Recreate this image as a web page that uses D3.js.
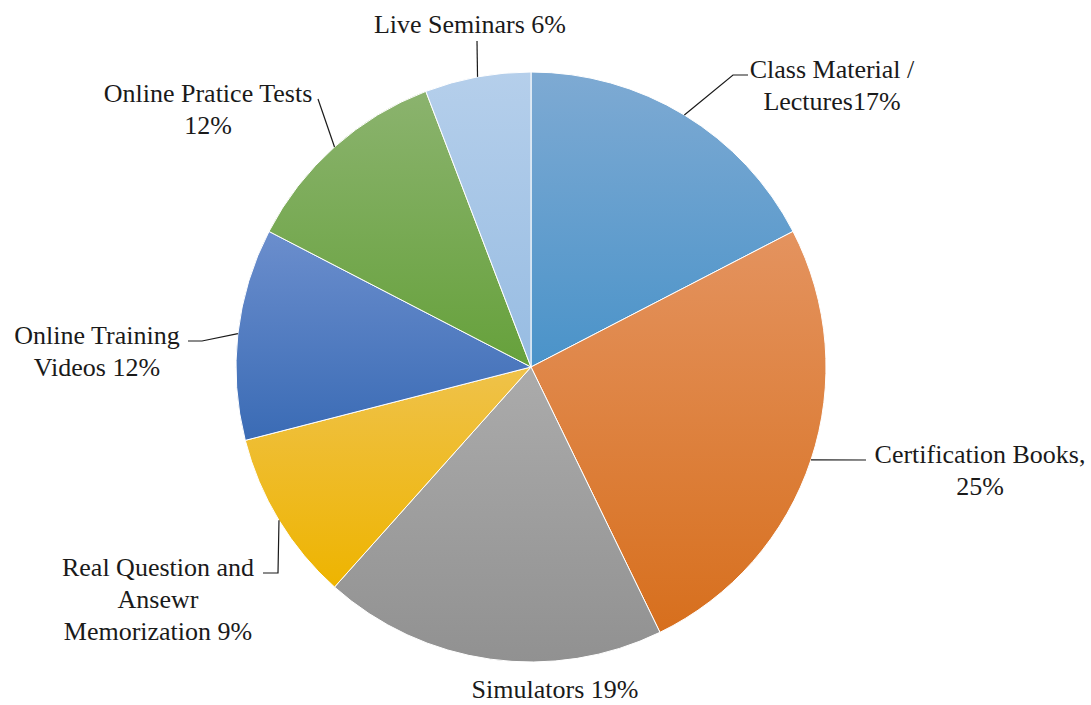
<!DOCTYPE html>
<html>
<head>
<meta charset="utf-8">
<script src="https://cdn.jsdelivr.net/npm/d3@7"></script>
<style>
	html, body { margin: 0; padding: 0; background: #fff; }
	svg { display: block; }
</style>
</head>
<body>
<script>
// slice shares (label text keeps the rounded numbers)
const categories = ["Class Material / Lectures", "Certification Books", "Simulators", "Real Question and Answewr Memorization", "Online Training Videos", "Online Pratice Tests", "Live Seminars"];
const shares = [17.4, 25.4, 18.8, 9.4, 11.6, 11.6, 5.8];
const labelLines = [
	["Class Material /", "Lectures17%"],
	["Certification Books,", "25%"],
	["Simulators 19%"],
	["Real Question and", "Ansewr", "Memorization 9%"],
	["Online Training", "Videos 12%"],
	["Online Pratice Tests", "12%"],
	["Live Seminars 6%"]
];
const colorsTop = ["#7eaad3", "#e4935f", "#ababab", "#efc24a", "#6b8ecd", "#8bb36e", "#b5cfeb"];
const colorsBottom = ["#4a93c9", "#d76f1d", "#919191", "#eeb400", "#3a6bb5", "#66a13b", "#97bce2"];

const width = 1091, height = 705;
const cx = 531, cy = 367, radius = 295;

// label anchor (centre x, first baseline) and leader elbows, in page pixels
const labelPos = [
	{x: 832, y: 78, leader: [[733, 75], [748, 75]]},
	{x: 980, y: 463, leader: [[866, 460]]},
	{x: 555, y: 698, leader: []},
	{x: 158, y: 576, leader: [[278, 573], [263, 573]]},
	{x: 97, y: 344, leader: [[202, 341], [188, 341]]},
	{x: 208, y: 102, leader: [[318, 99]]},
	{x: 470, y: 33, leader: [[477, 41]]}
];

const data = categories.map((name, i) => ({name, value: shares[i], i}));

const pie = d3.pie()
	.sort(null)
	.value(d => d.value);
const arc = d3.arc()
	.innerRadius(0)
	.outerRadius(radius);

const arcs = pie(data);

const svg = d3.select("body").append("svg")
	.attr("width", width)
	.attr("height", height);

const defs = svg.append("defs");
defs.selectAll("linearGradient")
	.data(data)
	.join("linearGradient")
		.attr("id", d => `g${d.i}`)
		.attr("x1", 0).attr("y1", 0)
		.attr("x2", 0).attr("y2", 1)
	.call(g => g.append("stop").attr("offset", "0%").attr("stop-color", d => colorsTop[d.i]))
	.call(g => g.append("stop").attr("offset", "100%").attr("stop-color", d => colorsBottom[d.i]));

const chart = svg.append("g")
	.attr("transform", `translate(${cx},${cy})`);

chart.append("g")
		.attr("stroke", "#ffffff")
		.attr("stroke-width", 1)
	.selectAll("path")
	.data(arcs)
	.join("path")
		.attr("fill", d => `url(#g${d.data.i})`)
		.attr("d", arc);

// leader lines: start on the rim at the slice middle
svg.append("g")
		.attr("fill", "none")
		.attr("stroke", "#1a1a1a")
		.attr("stroke-width", 1.2)
	.selectAll("polyline")
	.data(arcs.filter(d => labelPos[d.data.i].leader.length))
	.join("polyline")
		.attr("points", d => {
			const mid = (d.startAngle + d.endAngle) / 2;
			const p = [cx + radius * Math.sin(mid), cy - radius * Math.cos(mid)];
			return [p, ...labelPos[d.data.i].leader].map(q => q.join(",")).join(" ");
		});

svg.append("g")
		.attr("font-family", "'Liberation Serif', 'Times New Roman', serif")
		.attr("font-size", 26)
		.attr("fill", "#1a1a1a")
		.attr("text-anchor", "middle")
	.selectAll("text")
	.data(data)
	.join("text")
		.attr("x", d => labelPos[d.i].x)
		.attr("y", d => labelPos[d.i].y)
	.selectAll("tspan")
	.data(d => labelLines[d.i].map((t, k) => ({t, k, x: labelPos[d.i].x})))
	.join("tspan")
		.attr("x", d => d.x)
		.attr("dy", d => d.k ? 32 : 0)
		.text(d => d.t);
</script>
</body>
</html>
